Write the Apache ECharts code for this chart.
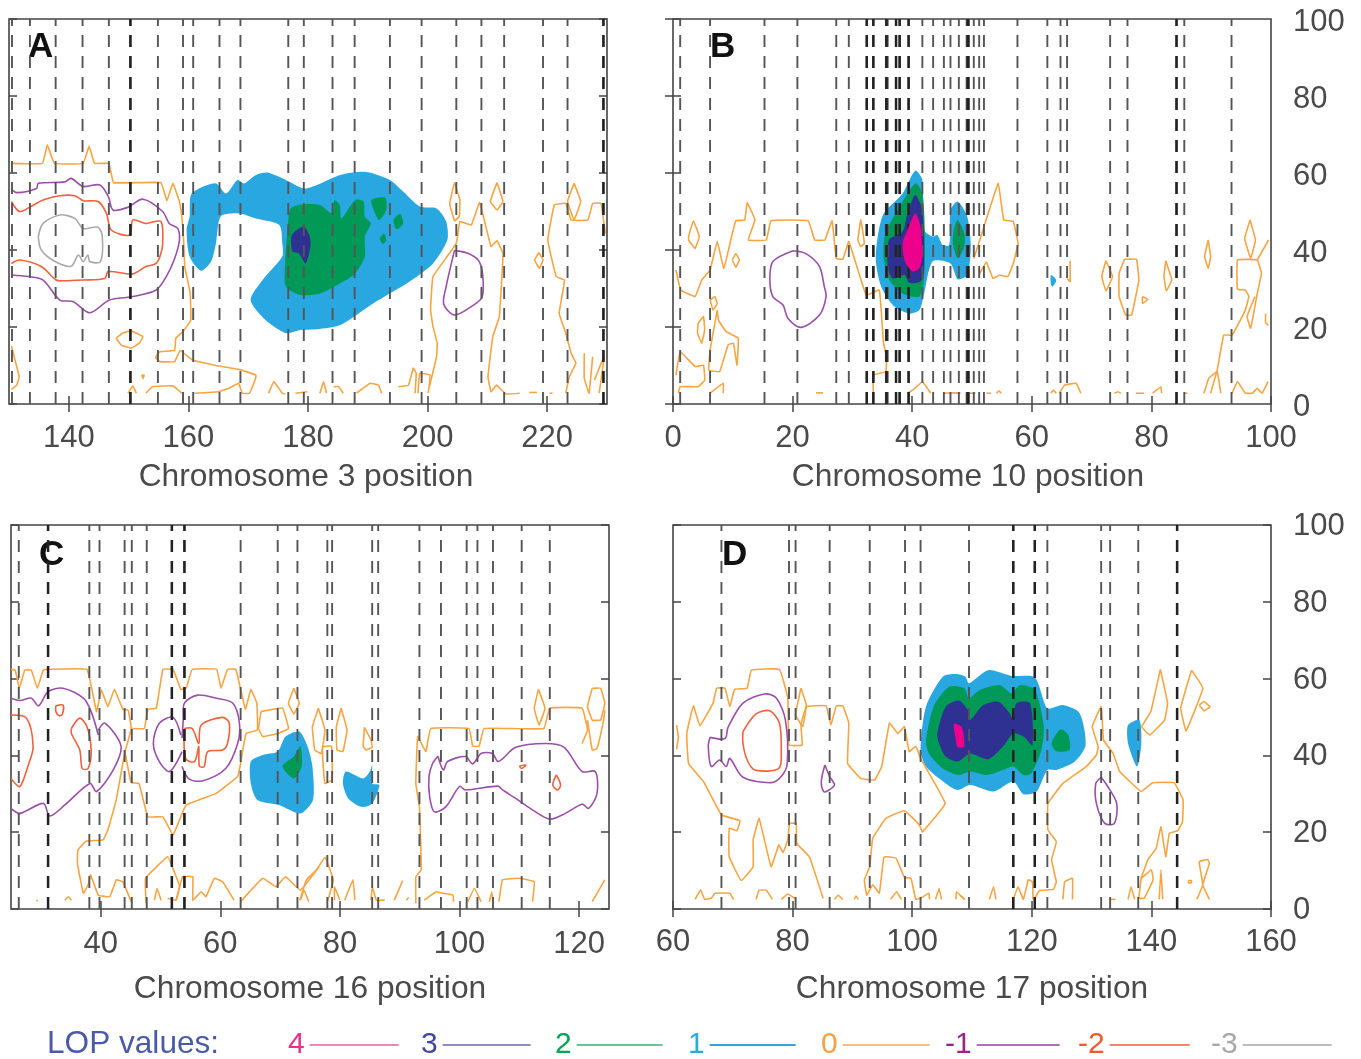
<!DOCTYPE html>
<html><head><meta charset="utf-8">
<style>html,body{margin:0;padding:0;background:#fff}#c{width:1361px;height:1059px}</style>
<script src="https://cdn.jsdelivr.net/npm/echarts@6/dist/echarts.min.js"></script>
</head><body><div id="c"></div>
<script>
// ---------- Panel A : chromosome 3 ----------
const A_markers=[130.5,133.5,137.8,142.3,146.7,150.3,154.9,159.1,160.8,165.2,168.7,176.7,179.3,184.1,187.8,193.7,199,204.8,209,212.8,219.3,223.4,229.4];
const A_bold=[150.3,229.4];
const A_fill1=[[[162.1,34.6],[160.2,38.3],[159.7,45.2],[160.2,48.7],[160.4,54.3],[161.8,56],[164.6,57.3],[166.3,54.7],[168.2,58.2],[169.3,57.3],[171.3,59.5],[173.2,60.1],[176.3,58.2],[179.3,56],[181.5,56.9],[185.4,59.5],[189.5,60.3],[193.7,58.2],[195.9,55.2],[198.7,51.3],[201.5,50.8],[203.1,47.4],[203.3,42.6],[200.9,36.5],[197,31.8],[190.9,26.1],[185.4,20.5],[181.5,19.4],[178.7,19.2],[176.3,18.4],[172.9,21.8],[170.4,27],[172.4,32.2],[175.7,38.3],[175.7,41.7],[175.2,46.5],[171.3,48.2],[168.5,49.5],[165.4,48.7],[164.6,41.7],[163.8,37]]];
const A_fill2=[[[176.3,30.5],[176.2,37.4],[176.6,45.2],[177.1,50.8],[179.3,51.9],[182,51.7],[184,49.5],[184.4,52.9],[185.3,51.7],[185.6,48.2],[187.9,53],[189.3,52.6],[189.5,48.7],[190.5,46.9],[189.5,43.5],[189.5,38.3],[187.9,33.9],[185.9,31.8],[182,28.7],[178.7,28.3]],
[[190.6,53],[192.9,53.6],[193.1,50.4],[191.9,47.8],[191,50.4]],[[194.3,47.8],[195.4,49.4],[195.9,46.9],[194.8,45.4]],[[192,43],[192.7,44.2],[193.1,42.6],[192.5,41.6]]];
const A_fill3=[[[177.3,43.9],[179.3,46.1],[180.3,43.5],[180.4,40.9],[179.6,36.5],[178.5,39.1],[177.4,39.6]]];
const A_level0=[
[[130.4,62.5],[135.6,62.5],[136.4,67.3],[137.6,62.5],[142.4,62.5],[143.4,67],[144.3,62.5],[146.7,62.5],[147.5,57.5],[155.4,57.5],[156.4,52.8],[157.4,57.3],[158.5,52.6],[158.9,48.7],[159.2,42.6],[159.4,35.7],[160.3,28.7],[160.4,21.8],[159.1,18.8],[157.9,17.1],[157.7,13.9],[155.2,13.6],[154.5,12.1],[155.2,11],[157.7,11],[158.6,13.9],[160.7,11.4],[164.6,10],[168.5,9],[171.3,7.5],[171.2,6.5],[170.2,2.8],[169,2.8],[168.4,5.4],[166.8,4.1],[165,3.2],[161,2.8]],
[[149.9,2.8],[150.7,4.7],[151.3,2.8]],[[152.9,2.8],[154,4.5],[157.4,4.7],[158.9,2.8]],
[[147.9,17.1],[149.1,18.5],[150.4,19],[152.4,17.5],[151.8,15.8],[150.4,14.5],[148.8,15.3],[147.9,17.1]],
[[130.4,15.1],[131,11.4],[131.7,7.1],[131.3,4.9],[130.4,3.8]],
[[152.2,7.5],[152.6,7.5],[152.4,6.6],[152.2,7.5]],
[[173.4,2.8],[174.3,5.8],[175.7,2.8],[176.2,2.6]],[[177.9,2.8],[179.9,3.2]],
[[182,2.8],[182.6,5.8],[183.1,2.8]],[[184.3,4.5],[185.1,4.5],[185.9,2.8]],[[188.1,2.8],[190.4,5.4],[191.8,4.9],[192.3,2.8]],
[[195.1,4.5],[196.8,4.9],[197.6,9.3],[198.1,8],[197.9,2.8]],[[198.4,2.8],[198.7,8],[200.4,7.5],[200.1,2.8]],
[[200.3,4.5],[201.5,12.3],[201.6,15.8],[200.9,20.1],[200.5,24.4],[200.9,33.1],[204.8,41.7],[205.4,47.4],[207.3,46.5],[208.7,52.3],[210.6,40.9],[211.6,42.4],[212.6,39.1],[212,22.7],[210.9,17.5],[210.1,7.1],[210.6,3.2],[211.5,4.9],[213.1,2.6],[215.4,2.8]],
[[204.5,57.5],[205.4,53],[205.3,48.7],[204.5,47.6],[203.7,52.1],[204.5,57.5]],
[[211.6,57.5],[212.6,52.6],[211.6,50.4],[210.5,52.6],[211.6,57.5]],
[[217,3],[218.3,3]],[[220.4,2.8],[220.9,2.8]],
[[218.6,39.3],[219.3,37.4],[218.7,35.2],[217.9,37.4],[218.6,39.3]],
[[223.1,2.8],[223.7,7.1],[224.8,10.6],[224,13.2],[223.1,18.4],[222,23.5],[222.9,32.2],[221.5,33.1],[220.1,42.6],[221.2,51.7],[223.1,52.1],[224,47.8],[226.8,47.8],[227.6,52.1],[229,52.1],[229.7,44.3]],
[[224.5,57.3],[225.6,52.6],[224.5,47.8],[223.4,52.6],[224.5,57.3]],
[[226.2,13.2],[226.2,6.7],[227,2.8],[227.6,12.3]],[[227.9,6.2],[229.5,12.3],[228.7,2.8]]];
const A_levelM1=[[[130.4,55.8],[131.3,54.9],[134.6,56],[134.9,57.3],[139.3,57.7],[140.4,58.6],[142.4,56.5],[145.2,56.9],[146.6,53.9],[147.4,50.4],[149.9,51.1],[152.4,53.2],[155.7,50],[156.8,46.9],[158.2,45.6],[158.5,42.6],[157.7,37.8],[156.3,33.1],[154.6,29.6],[150.7,27.9],[146.8,27],[143.5,23.7],[140.7,26.6],[138.5,27],[135.7,32.2],[133.2,33.1],[130.4,33.5]],
[[204.5,39.9],[206.8,39.1],[208.5,37.3],[209.2,33.7],[209.1,27.7],[207.3,25.3],[204.5,23.1],[202.7,25.9],[203.1,30.5],[204.5,39.9]]];
const A_levelM2=[[[130.4,52.6],[131.8,50],[134.1,51.7],[135.7,53],[138.5,54.1],[141,54.1],[142.4,52.8],[144.9,52.6],[146.3,49.5],[147.1,45.2],[150.2,43.9],[150.7,47.8],[152.9,46.9],[155.4,47.4],[155.7,41.7],[155.4,39.1],[154.6,36.5],[152.9,35.7],[150.7,33.8],[146.6,34.4],[146,32.6],[142.4,32.2],[139.1,32],[137.9,32.2],[135.4,35.7],[131.8,37.4],[130.4,36.5]]];
const A_levelM3=[[[134.9,43.5],[135.7,46.9],[138.5,49.1],[141,48.2],[142.4,45.6],[144.9,45.9],[145.6,43.5],[145.3,37],[143.5,37],[143.2,38.7],[142.4,37],[141.6,38.7],[140.4,35.8],[137.7,37],[135.4,40],[134.9,43.5]]];
// ---------- Panel B : chromosome 10 ----------
const B_markers=[1.2,6.2,15.3,20.8,27.3,29.4,32.4,33.5,35.6,35.9,37.3,37.9,39.4,41.7,43.5,45.3,46.4,47.8,49.1,49.5,50.3,51.2,52,57.6,62.6,64.8,65.9,73.1,76,84.2,85.5,93.4];
const B_bold=[32.4,33.5,35.7,37.3,37.9,39.4,49.3,84.2];
const B_fill1=[[[40.5,60.6],[41.7,58.2],[42,45.2],[43.4,43.5],[44.2,43.9],[45.1,41.3],[46.2,41.3],[46.4,50.4],[47.6,52.6],[49.2,48.7],[49.8,40.9],[49.2,33.5],[47.6,32.4],[46.4,36.5],[43.4,37],[42,28.7],[41.2,24.4],[39.5,23.5],[37,25.3],[34.8,30.5],[33.9,38.3],[35.1,49.1],[38.4,54.7]],[[63.2,33.5],[64.1,32.2],[63.5,30.5],[63.2,31]]];
const B_fill2=[[[40.5,57.3],[41.7,54.7],[42.1,45.2],[42,33.1],[41.2,27.9],[38.4,28.7],[36.2,32.2],[35.2,38.3],[35.5,44.3],[37.6,50.4]],[[47.6,47.8],[48.7,44.3],[48.7,40.9],[47.6,37.8],[46.8,41.7],[47,45.6]]];
const B_fill3=[[[40.5,54.3],[41.7,50.4],[42,34.8],[41.4,31.8],[39.5,31.5],[38.7,33.5],[36.7,32.6],[35.9,35.7],[36.1,42.6],[38.4,44.8],[39.2,49.5]]];
const B_fill4=[[[40.5,49.5],[41.4,46.1],[41.7,38.3],[41.2,35.3],[40.1,34.4],[38.8,37],[38.4,41.7],[39.2,45.2]]];
const B_level0=[
[[0.5,34.8],[1.3,29.6],[3.7,27.9],[4.8,32.2],[6.2,34.8],[7.4,42.2],[8.5,35.2],[9.8,43.5],[10.5,47.6],[12,47.8],[12.4,52.3],[13.7,47.8],[12.6,42.6],[15.6,42.6],[16.4,47.6],[22.6,47.6],[23.7,42.6],[25.4,42.6],[26.6,47.6],[27.3,37.8],[28.4,37.6],[29.4,42.2],[32.3,28.3],[34.5,29.6],[35.2,15.8],[35.7,12.3],[35.6,8.4],[33.5,7.5],[33.5,2.8]],
[[0.5,7.5],[1.2,13.6],[3.7,9.7],[5.1,10.1],[5.3,6.2],[4.2,4.5],[1.2,4.5],[0.9,2.8]],
[[7.4,24.4],[6.2,14],[6,8.8],[7.8,8.4],[9.2,15.3],[10.1,15.8],[10.7,10.1],[10.9,17.1],[8.9,18.8],[7.6,21.8],[7.4,24.4]],
[[6.2,27],[7,27.9],[7.4,26.1],[6.7,24.4],[6.2,27]],
[[4.2,21],[5.1,22.7],[5.3,19.2],[4.8,15.8],[4.1,18.4],[4.2,21]],
[[2.6,43.5],[3.4,47.6],[4.4,43.5],[3.7,40.4],[2.6,42.6],[2.6,43.5]],
[[9.9,37.4],[10.5,39.1],[11.1,37.4],[10.5,35.5],[9.9,37.4]],
[[30.9,42.6],[31.4,47.8],[32,41.7],[31.4,40.9],[30.9,42.6]],
[[6.2,2.8],[8.4,5.4],[8.4,2.8]],[[23.9,2.9],[25.1,2.9]],
[[39.2,2.8],[40.1,3.6],[41.7,5.8],[43.1,2.8]],[[45.3,2.8],[47,2.9],[48.1,2.8]],[[49.5,2.8],[50.6,2.8]],
[[50.3,37.8],[51.3,42.6],[52.7,49.5],[54.4,57.3],[55.3,47.8],[56.9,47.4],[57.7,41.7],[56.9,36.5],[56,33.1],[54.6,33.5],[53.5,32.6],[52.4,36.9],[51.3,33.9]],
[[52.4,2.8],[53.2,2.8]],[[54.1,2.8],[54.5,3.4],[54.9,2.8]],[[63.2,2.8],[63.6,3.6],[64.1,2.8]],[[64.6,2.8],[65.5,4.9],[67.4,5.4],[68.2,2.8]],
[[73.8,2.8],[74.4,3.2],[74.9,2.8]],[[77.4,2.8],[78.8,2.8]],[[80.2,2.8],[81.6,4.5],[81.7,2.8]],[[85.5,2.8],[86,2.8]],
[[88.8,2.8],[89.6,6.7],[91,8.4],[91.6,2.8]],
[[89.9,2.8],[91,8.8],[92.1,17.9],[93.5,17.9],[95.7,24.4],[96.3,27.9],[95.7,29.6],[94.4,29.8],[94.4,37.4],[97.7,37.4],[98.4,33.9],[97.7,28.7],[96.6,19.7],[96,22.7],[97.3,27.9]],
[[97.7,37.4],[99.6,42.6]],[[99.1,23.5],[99.1,21],[99.6,20.5]],
[[96.5,47.8],[97.4,42.6],[96.6,37.8],[95.6,43],[96.5,47.8]],
[[89.5,42.6],[89.9,38.3],[89.5,35.2],[88.9,38.3],[89.5,42.6]],
[[72.4,37.2],[73.5,33.1],[72.4,29.4],[71.7,33.1],[72.4,37.2]],
[[75.5,37.6],[77.5,37.6],[77.9,32.2],[76.7,23.1],[75.7,23.1],[74.6,27.9],[74.6,33.9],[75.5,37.6]],
[[78.5,27.9],[79.4,27.2],[78.5,26.1],[78.5,27.9]],
[[82.4,37.2],[83.4,32.2],[82.5,29.4],[82.1,33.1],[82.4,37.2]],
[[66.4,37.2],[66.4,31.8],[65.9,32.6]],
[[93.5,2.8],[94.4,5.8],[95.7,2.8],[96.9,2.8],[97.7,4.1],[98.5,2.8],[99.5,5.8]]];
const B_levelM1=[[[20.1,39.8],[22.3,39],[24.5,35.7],[25.3,30.5],[25.6,27.9],[24.5,23.1],[21.4,19.9],[19.2,22.3],[18.4,25.7],[16.7,27.9],[16.2,32.2],[16.7,37],[20.1,39.8]]];
// ---------- Panel C : chromosome 16 ----------
const C_markers=[26.3,31.2,38.1,39.8,44,45.2,47.7,51.9,54,63.4,69.6,72.9,77.9,78.7,85.4,86.4,93.3,96.9,101.2,103,105.6,110.4,115.1];
const C_bold=[31.2,51.9,54];
const C_fill1=[[[65.1,38.4],[67.1,40.1],[69.6,41],[70.9,44.9],[73.2,46.2],[74.6,42.3],[75.4,37.1],[75.5,28.4],[73.4,24.9],[69.8,27.1],[66.2,28.4],[65.1,32.7]],[[81,35.8],[83.9,34],[85,35.8],[85.4,37.5],[85.4,32.7],[86.6,32.3],[85.4,27.5],[83.6,26.6],[81.4,28.8],[80.5,32.7]]];
const C_fill2=[[[73.4,42.4],[73.6,37.1],[72.3,34],[70.4,37.2],[72.3,39.7]]];
const C_level0=[
[[25,62.4],[25.7,62.2],[26.4,57.5],[27.3,62.2],[28.4,62.2],[29.4,57.5],[30.4,62.2],[31.2,62.4],[37.7,62.4],[39.3,51.4],[40.1,57],[41.2,52.7],[42.3,57.2],[43.7,52],[44.6,51.8],[45.1,47],[44,40.5],[42.6,28.4],[41.2,20.6],[40.4,18],[37.6,17.7],[36.2,15.4],[36.1,11.9],[37.1,4.1],[37.9,6.3],[38.3,8.9],[39.6,3.6],[41.5,3.2],[42.6,7.6],[43.7,7.1],[45.1,1.9]],
[[44,41.4],[45.1,32.9],[46.4,32.7],[47.9,24],[50.4,24],[52.1,19.3],[54.3,27.1],[59.3,30.1],[62.9,34.5],[63.4,37.9],[64.3,45.7],[66.2,46.6],[66.1,53.6],[65.1,57.2],[64.2,52],[62.6,62.4],[61.2,62.4],[60.1,57.5],[59.4,62.4],[55.3,62.4],[54.3,57.5],[53.4,57.2],[52.1,62.4],[50.4,62.4],[49.3,52.3],[47.9,52],[47.3,47],[45.3,47]],
[[72.3,57.5],[73.2,53.6],[72.3,50.8],[71.4,53.6],[72.3,57.5]],
[[66.8,51.4],[70.4,52.3],[71.4,47],[69.6,45.7],[67.1,44.9],[66.4,47],[66.8,51.4]],
[[47.6,1.5],[47.5,8],[51.2,13.6],[52.3,9.7],[53.2,5.8],[52.6,2.3],[51.2,2.8]],
[[52.6,2.3],[53.7,8.4],[55.4,8.4],[55.4,2.3],[56.8,4.5],[57.6,3.2],[59,8],[60.4,7.1],[62.3,2.3]],
[[63.4,1.9],[67.1,8],[69.3,5.8],[70.9,8.4],[73.4,4.9],[76.5,11]],
[[49,2.3],[49.4,5.4],[50.1,2.3]],[[34,2.3],[34.6,3.2],[35.1,2.3]],[[73.4,2.3],[74,4.9],[74.8,1.9]],[[29.2,2.2],[29.5,2.2]],
[[76.4,52.3],[77.5,46.6],[76.9,40.5],[75.8,41.4],[75.4,47.4],[76.4,52.3]],
[[80.2,52.3],[81.2,46.6],[80.5,41],[79.5,41.4],[79.4,47.4],[80.2,52.3]],
[[77.1,42.3],[78.6,42.4],[78.7,33.6],[77.5,32.7],[77.1,39.8],[77.1,42.3]],
[[84.1,47.3],[85.2,44],[85.4,42.1],[84.4,41.4],[83.9,42.3],[84.1,47.3]],
[[92.7,1.5],[92.7,8.4],[93.6,10.2],[93.3,26.6],[92.7,32.7],[93,44.9],[93.9,42.3],[94.4,41],[95.2,47],[101.6,47],[102.2,42.4],[103.3,42.4],[104.1,47],[114.1,47],[115.1,52.3],[120.5,52.3],[121.4,46.6],[120.5,43.1]],
[[113.2,57.2],[114.3,52.3],[113.3,47.9],[112.5,52.3],[113.2,57.2]],
[[122.2,57.5],[123.6,57.5],[124.3,53.6],[123.6,49.2],[122.2,49.2],[121.4,52.7],[122.2,57.5]],
[[121.4,49.2],[122.2,41.4],[123,41.8],[124.1,49.2],[124.3,51.8]],
[[73.3,2.3],[74.4,7.6],[76.1,10.2],[77.5,13.5],[78.9,7.6],[78,2.3]],
[[79.1,2.3],[79.1,5.8],[80,2.3]],[[80.8,2.3],[82.2,7.6],[82.5,2.3]],[[85.2,2.3],[85.4,5.8],[86.1,2.3],[87.5,2.3]],
[[89.1,2.3],[90.5,7.4]],[[91.1,2.3],[91.5,3]],[[94.1,2.3],[96.1,4.5],[97.2,4.1],[98.9,3.6],[99,1.9]],
[[101.4,1.9],[102.5,5.4],[103.6,1.9]],[[105,1.9],[105.4,4.5],[105.6,1.9]],
[[106.6,1.9],[107.2,7.6],[110,8],[112.5,7.1],[112.2,1.9]],[[122.2,1.9],[124.3,7.6]]];
const C_levelM1=[
[[25,54.9],[26.5,54.3],[28.4,54.9],[29.6,52.9],[31.2,56.6],[33.7,57.5],[37.1,54.9],[38.4,51.4],[39.6,45.3]],
[[39.6,46.6],[40.7,48.4],[43.4,42.4],[42.1,36.2],[39.3,30.6],[38.2,32.7],[34.3,27.5],[31.5,24.2],[30.4,27.5],[26.5,24.9],[25,26.2]],
[[53.4,45.3],[52.1,49.9],[49.8,48.4],[48.8,43.1],[49.8,38.4],[51.5,35.8],[53.6,41]],
[[53.6,37.1],[54.8,33.8],[57.1,33.4],[60.9,36.6],[62.9,43.1],[63.2,48.4],[62.1,53.6],[59.3,54.9],[56.2,55.7],[54,53.6],[53.8,49.2],[53.6,44.5]],
[[96.4,39.8],[97.3,36.2],[98,38.4],[101,39.7],[102.2,37.8],[103.6,40.5],[105.5,40.5],[106.5,38.4],[109.4,42.1],[114.4,43.1],[117.5,42.1],[120.5,35.8],[122.7,35.8],[123,30.1],[121.6,26.2],[120.5,27.3],[117.7,24.9],[115.1,23.4],[112.2,25.8],[109.4,28.8],[107.2,31],[106.4,32],[101,31],[100,31.9],[97.7,26.6],[95.8,25.3],[95,29.3],[94.9,34.5],[95.5,37.9],[96.4,39.8]]];
const C_levelM2=[
[[25,50.5],[27.6,49.7],[28.7,42.3],[27.9,37.5],[26.5,31.9],[25.4,33.2],[25,34]],
[[32.5,52.9],[33.7,53.1],[33.6,50.8],[33.1,50.3],[32.5,51.4],[32.5,52.9]],
[[35.1,47],[36.5,49.7],[37.7,47.5],[38.4,41.4],[37.9,36.6],[36.9,36.6],[36.5,41.4],[35.1,45.7],[35.1,47]],
[[54,47],[55.3,47],[56.4,43.1],[56.8,47.9],[60.4,49.9],[61.5,48.4],[61.2,43.1],[60.4,41.4],[57.9,41],[57.3,37.1],[56.5,37.2],[56.4,42.3],[55.7,38.4],[54.2,39.2],[54,47]],
[[110,37.2],[111.1,37.5],[110.4,36.6],[110,37.2]],
[[116.2,34.9],[116.9,32.3],[116.4,31],[115.6,32.3],[116.2,34.9]]];
// ---------- Panel D : chromosome 17 ----------
const D_markers=[68.1,79.4,80.5,86.2,92.9,98.8,101.4,109.5,116.9,120.5,122.6,131.6,133.1,137.8,144.3];
const D_bold=[116.9,120.5,144.3];
const D_fill1=[[[101.4,41.4],[102.3,52.7],[105.1,60.5],[107.3,61.2],[108.9,60.5],[109.5,58.8],[112.7,62.2],[116.6,60.7],[120.5,60.3],[122.6,52.3],[125.2,53.1],[128,51],[129,42.7],[127.2,38.4],[124.1,36.2],[122.6,36.2],[120.8,30.6],[118.6,29.9],[116.9,33.2],[113.6,30.6],[109.7,32.3],[107.6,31],[105.6,32.7],[102.3,37.1]],[[136.1,47.9],[138,49.2],[138.3,42.7],[137.6,37.1],[136.1,43.1]]];
const D_fill2=[[[102.3,44],[103.7,53.1],[106.2,57.9],[108.7,57.5],[109.5,54.9],[111.3,57],[114.7,58.3],[116.6,56.2],[118,58.3],[120.5,57],[122,47.5],[121.6,41.4],[119.9,35.3],[118.6,34.9],[116.9,37.1],[115.2,36.2],[112.4,34.9],[109.7,35.8],[107.8,34.9],[105.1,36.6],[102.8,40.5]],[[123.3,43.1],[124.8,46.8],[126.1,45.3],[126.3,41.4],[124.1,41.1]]];
const D_fill3=[[[104.2,45.7],[105.6,52.7],[107.8,54.3],[109.5,51.4],[109.7,49.2],[111.9,53.1],[114.4,54],[116.3,51],[116.9,49.2],[117.4,53.6],[119.7,53.6],[120.1,42.7],[118.6,44.9],[116.9,45.7],[115.2,42.3],[112.7,39],[109.7,40.5],[107.6,38.4],[105.6,39.7],[104.5,43.1]]];
const D_fill4=[[[107,48.2],[108.3,47.3],[108.7,42.3],[107.6,42.1],[107.2,44.9]]];
const D_level0=[
[[60.6,47.9],[60.9,44.8],[60.6,41.6]],
[[85.1,2.8],[82.8,13.6],[80.7,17.1],[80.6,22.3],[79.5,22.3],[79.2,18],[78.4,14.7],[77.7,16.7],[76.4,11],[74.4,23.6],[73.4,18],[73.4,11],[71.4,7.4],[69.4,13.6],[69.4,21],[70.7,20.4],[71.2,23],[68.1,24.5],[65.1,33.2],[62.6,37.9],[62.3,45.7],[63.4,52.9],[64.5,47.7],[66.7,53.6],[67.3,57.5],[68.7,57.5],[69.5,52.7],[70.3,57.2],[72.4,57.5],[73.1,62.2],[77.8,62.4],[79.2,54.9],[79.4,42.7],[81.6,42.7],[81.4,47.9],[82.3,52.7],[85.6,52.9],[86.4,47.9],[87.3,52.9],[88.4,52.9],[89.4,48.4],[89.2,37.9],[91.4,34],[93.7,33.6],[94.9,37.1],[96.2,48.4],[97.6,45.7],[98.7,47.5],[99.5,41],[100.6,42.4],[101.4,39.2],[105.5,27.5],[101.7,20.1],[101.2,21.9],[98.7,25.6],[95.6,23.6],[93.4,18.4],[92.9,11],[92,7.6],[92.4,3.6],[93.4,6.3],[94.5,4.1],[95.3,13.6],[97.3,13.2],[98.7,8.2],[99.8,8],[100.6,2.5],[101.4,2.8]],
[[81.4,57.5],[82.3,53.1],[81.7,47.5],[80.5,50.5],[81.4,57.5]],
[[63.7,2.5],[64.6,5],[65.3,2.5],[66.4,2.8],[67,4.1],[69.5,4.1],[70.1,2.5]],
[[73.9,2.5],[74.4,4.9],[75.6,4.9],[76.6,2.5]],[[78.1,2.5],[79.2,3.9],[80.6,2.5]],
[[87,2.5],[87.6,3.6],[88.4,2.5]],[[90.3,2.5],[90.6,3.4],[91,2.5]],[[96.4,2.5],[97.4,4.5],[98.2,2.5]],
[[101.4,2.8],[102.8,4.1],[102.9,2.5]],[[103.9,2.5],[104.5,5.4],[104.9,2.5]],[[107.3,2.5],[107.4,4.5],[108.7,2.5]],
[[120.5,2.8],[121.3,4.8],[123.6,5.1],[124.1,7.1],[123.3,12.8],[124.1,17.5],[122.7,20.6],[122.7,27.5],[125.2,32.7],[129.1,37.1],[130.8,40.1],[131.1,42.3],[130.1,47.5],[131.6,52.7],[132,44],[133.6,40.5],[134.7,35.8],[138.3,30.6],[140.2,32.9],[143.8,32.9],[145.3,28.4],[145.2,22.7],[144.4,20.4],[143,19.7],[142.4,13.6],[141.6,21.4],[140.8,15.8],[139.4,12.8],[138.3,8],[137.9,2.8]],
[[138.3,8],[140,10.2],[140.3,7.6],[138.8,2.8],[137.9,2.8]],
[[141.5,62.4],[142.7,53.6],[142.2,49.2],[139.7,45.3],[138.4,47.5],[139.9,51.4],[141.5,62.4]],
[[146.7,62.2],[148.6,57.5],[145.8,46.4],[144.9,52.3],[146.7,62.2]],
[[148,53.1],[148.8,54],[149.8,52.7],[148.8,51.6],[148,53.1]],
[[108,3.6],[108.8,2.5]],[[112.9,2.5],[113.6,5.8],[114,2.5]],
[[116.9,2.5],[117.7,5.8],[118.6,2.5],[119.4,7.6],[120.1,7.1],[120.2,2.5]],
[[125.2,2.5],[125.5,7.1],[126.8,8],[126.8,2.5]],[[136.1,2.5],[136.6,5.8],[137.2,2.5]],[[141.3,2.5],[141.6,10.2],[141.9,2.5]],[[133.1,2.5],[134,2.5]],
[[147.6,2.5],[148.6,6.3],[148,12.3],[149.4,12.9],[149.7,11.9],[148.6,6.3],[149.7,2.5]],
[[146.2,7.4],[146.7,7.4],[146.7,6.8],[146.2,6.8],[146.2,7.4]]];
const D_levelM1=[
[[66.2,44.7],[68.7,44.4],[69.2,47.3],[71.7,53.6],[75.3,56],[77.3,54.9],[78.8,49.2],[79.1,37.9],[78.1,34.5],[76.4,32.9],[71.7,34.3],[69.5,39.2],[68.9,37.1],[67.8,38.8],[66.4,37.1],[65.9,42.3],[66.2,44.7]],
[[85.4,37.5],[86.2,34.5],[87,32.3],[85.9,30.8],[85.2,30.6],[84.8,33.2],[85.4,37.5]],
[[131.6,34.3],[132.7,31.9],[134.2,27.5],[133.8,22.3],[132.2,22.3],[130.8,27.5],[130.7,32.7],[131.6,34.3]]];
const D_levelM2=[[[71.7,46.2],[73.9,50.8],[76.2,51.6],[77.8,48.4],[78.1,41.4],[77.7,36.6],[73.7,36.2],[72.4,38.8],[71.7,43.1],[71.7,46.2]]];
// ---------- Axis text ----------
const xTicksA=[140,160,180,200,220], xTicksB=[0,20,40,60,80,100], xTicksC=[40,60,80,100,120], xTicksD=[60,80,100,120,140,160];
const yTicks=[0,20,40,60,80,100];
const legendLevels=['4','3','2','1','0','-1','-2','-3'];
const legendText=['#e8308c','#43479f','#00a651','#29abe2','#f7a13f','#92278f','#f15a29','#a8a8a8'];
const legendLine=['#f285bd','#8c8cc4','#63c795','#2ea8e0','#f9bd7c','#ad72b5','#f2876a','#bdbdbd'];
const legendLeft=[288,421,555,688,821,945,1078,1211];
const legendWidth=[89,88,86,86,87,83,80,89];
const levelColor={'4':'#ec008c','3':'#2e3192','2':'#009a56','1':'#29a7e1','0':'#f7a443','-1':'#9a4fa8','-2':'#f2603c','-3':'#a9a9a9'};
const levelSmooth={'0':0.08,'-1':0.3,'-2':0.3,'-3':0.3};

const panels=[
 {id:'A',title:'Chromosome 3 position',min:130,max:230,ticks:xTicksA,left:9,top:19,h:385,markers:A_markers,bold:A_bold,fills:{'1':A_fill1,'2':A_fill2,'3':A_fill3},lines:{'0':A_level0,'-1':A_levelM1,'-2':A_levelM2,'-3':A_levelM3},lx:41,ly:48,right:false,labelGap:19,nameGap:57,nameShift:4,yLine:2},
 {id:'B',title:'Chromosome 10 position',min:0,max:100,ticks:xTicksB,left:673,top:19,h:385,markers:B_markers,bold:B_bold,fills:{'1':B_fill1,'2':B_fill2,'3':B_fill3,'4':B_fill4},lines:{'0':B_level0,'-1':B_levelM1},lx:723,ly:48,right:true,labelGap:19,nameGap:57,nameShift:8,yLine:6},
 {id:'C',title:'Chromosome 16 position',min:25,max:125,ticks:xTicksC,left:11,top:525,h:384,markers:C_markers,bold:C_bold,fills:{'1':C_fill1,'2':C_fill2},lines:{'0':C_level0,'-1':C_levelM1,'-2':C_levelM2},lx:52,ly:556,right:false,labelGap:20,nameGap:64,nameShift:0,yLine:2},
 {id:'D',title:'Chromosome 17 position',min:60,max:160,ticks:xTicksD,left:673,top:525,h:384,markers:D_markers,bold:D_bold,fills:{'1':D_fill1,'2':D_fill2,'3':D_fill3,'4':D_fill4},lines:{'0':D_level0,'-1':D_levelM1,'-2':D_levelM2},lx:735,ly:556,right:true,labelGap:18,nameGap:64,nameShift:0,yLine:3}
];
const FONT='"Liberation Sans",Arimo,Helvetica,Arial,sans-serif';
const TXT='#4a4a4a';
const grid=[],xAxis=[],yAxis=[],series=[],graphic=[];
const tick={show:true,inside:true,length:8,lineStyle:{color:'#444',width:1.5}};

panels.forEach((p,i)=>{
  grid.push({show:true,left:p.left,top:p.top,width:598,height:p.h,borderColor:'#444',borderWidth:1.6,backgroundColor:'#fff'});
  const xb=xAxis.length, yb=yAxis.length;
  xAxis.push({gridIndex:i,type:'value',position:'bottom',min:p.min,max:p.max,splitLine:{show:false},axisLine:{show:false},
    axisTick:Object.assign({},tick,{customValues:p.ticks}),
    axisLabel:{customValues:p.ticks,fontSize:31,fontFamily:FONT,color:TXT,margin:p.labelGap,showMinLabel:true,showMaxLabel:true},
    name:p.title,nameLocation:'middle',nameGap:p.nameGap,nameTextStyle:{fontSize:31.7,fontFamily:FONT,color:TXT,padding:[0,p.nameShift,0,0]}});
  xAxis.push({gridIndex:i,type:'value',position:'top',min:p.min,max:p.max,splitLine:{show:false},axisLine:{show:false},
    axisTick:Object.assign({},tick,{customValues:p.ticks}),axisLabel:{show:false}});
  yAxis.push({gridIndex:i,type:'value',position:'left',min:0,max:100,interval:20,splitLine:{show:false},axisLine:{show:false},axisTick:tick,axisLabel:{show:false}});
  yAxis.push({gridIndex:i,type:'value',position:'right',min:0,max:100,interval:20,splitLine:{show:false},axisLine:{show:false},axisTick:tick,
    axisLabel:{show:p.right,fontSize:31,fontFamily:FONT,color:TXT,margin:22,align:'left',verticalAlign:'top',lineHeight:p.yLine,customValues:yTicks,showMinLabel:true,showMaxLabel:true}});
  const axes={xAxisIndex:xb,yAxisIndex:yb,coordinateSystem:'cartesian2d',silent:true,animation:false,clip:true};

  ['1','2','3','4'].forEach(lv=>{
    const shapes=p.fills[lv]; if(!shapes) return;
    series.push(Object.assign({},axes,{type:'custom',name:lv,z:lv==='4'?11:2+Number(lv),itemStyle:{color:levelColor[lv]},data:shapes.map((s,k)=>[k,0]),
      renderItem:(params,api)=>({type:'polygon',shape:{points:shapes[params.dataIndex].map(q=>api.coord(q)),smooth:0.25},style:{fill:levelColor[lv]}})}));
  });
  ['0','-1','-2','-3'].forEach(lv=>{
    const paths=p.lines[lv]; if(!paths) return;
    series.push(Object.assign({},axes,{type:'custom',name:lv,z:8,itemStyle:{color:levelColor[lv]},data:paths.map((s,k)=>[k,0]),
      renderItem:(params,api)=>({type:'polyline',shape:{points:paths[params.dataIndex].map(q=>api.coord(q)),smooth:levelSmooth[lv]},style:{fill:'none',stroke:levelColor[lv],lineWidth:1.6,lineJoin:'round'}})}));
  });
  const dash=(list,w,col)=>series.push(Object.assign({},axes,{type:'custom',name:'markers '+p.id,z:10,data:list.map(v=>[v,0]),
    renderItem:(params,api)=>{const a=api.coord([api.value(0),0]),b=api.coord([api.value(0),100]);
      return {type:'line',shape:{x1:a[0],y1:a[1],x2:b[0],y2:b[1]},style:{stroke:col,lineWidth:w,lineDash:[12,9]}};}}));
  dash(p.markers,1.9,'#555');
  dash(p.bold,2.5,'#222');
  graphic.push({type:'text',left:p.lx-13,top:p.ly-18,silent:true,style:{text:p.id,font:'bold 35px '+FONT,fill:'#111'}});
});
graphic.push({type:'text',left:47,top:1028,silent:true,style:{text:'LOP values:',font:'31.6px '+FONT,fill:'#4a5aa8'}});

const legend=legendLevels.map((n,k)=>({left:legendLeft[k],top:1030,padding:0,orient:'horizontal',align:'right',selectedMode:false,itemWidth:legendWidth[k],itemHeight:2,icon:'rect',
  textStyle:{fontSize:30,fontFamily:FONT},
  data:[{name:n,icon:'rect',itemStyle:{color:legendLine[k]},textStyle:{color:legendText[k],fontSize:30,fontFamily:FONT}}]}));

const chart=echarts.init(document.getElementById('c'),null,{renderer:'canvas'});
chart.setOption({animation:false,backgroundColor:'#fff',grid,xAxis,yAxis,series,graphic,legend});
</script></body></html>
